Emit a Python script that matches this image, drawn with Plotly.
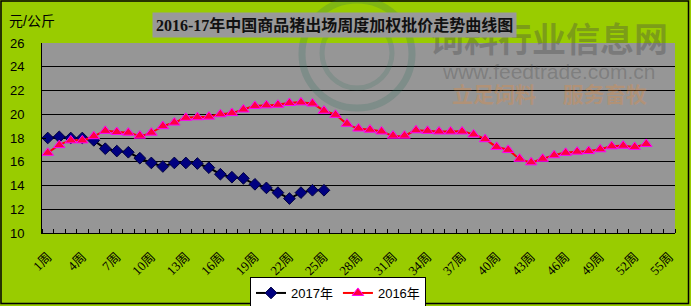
import plotly.graph_objects as go

# ---- data ----
weeks_2017 = list(range(1, 26))
price_2017 = [18.0, 18.1, 18.0, 18.0, 17.8, 17.1, 16.9, 16.8, 16.3, 15.9,
              15.6, 15.9, 15.9, 15.85, 15.5, 14.95, 14.7, 14.6, 14.1, 13.8,
              13.4, 12.9, 13.4, 13.6, 13.6]
weeks_2016 = list(range(1, 54))
price_2016 = [16.75, 17.4, 17.8, 17.8, 18.15, 18.6, 18.5, 18.45, 18.2, 18.45,
              19.0, 19.3, 19.7, 19.75, 19.8, 20.0, 20.1, 20.4, 20.7, 20.75,
              20.8, 20.95, 21.0, 20.9, 20.3, 19.95, 19.2, 18.8, 18.7, 18.55,
              18.2, 18.2, 18.65, 18.6, 18.55, 18.55, 18.55, 18.3, 17.9, 17.25,
              17.0, 16.25, 15.95, 16.25, 16.55, 16.75, 16.85, 16.9, 17.05, 17.3,
              17.35, 17.25, 17.5]
tick_weeks = list(range(1, 56, 3))
tick_text = [f"{w}周" for w in tick_weeks]
y_ticks = list(range(10, 27, 2))
y_grid = list(range(12, 25, 2))

title_text = "2016-17年中国商品猪出场周度加权批价走势曲线图"
unit_text = "元/公斤"

W, H = 691, 306
ML, MR, MT, MB = 42, 16, 43, 73
PW, PH = W - ML - MR, H - MT - MB

def px(x):
    return (x - ML) / PW

def py(y):
    return (H - MB - y) / PH

fig = go.Figure()
fig.add_trace(go.Scatter(
    x=weeks_2017, y=price_2017, name="2017年", mode="lines+markers",
    line=dict(color="#000000", width=2),
    marker=dict(symbol="diamond", size=9, color="#000080",
                line=dict(color="#000040", width=1)),
))
fig.add_trace(go.Scatter(
    x=weeks_2016, y=price_2016, name="2016年", mode="lines+markers",
    line=dict(color="#FF0000", width=2, shape="spline", smoothing=0.6),
    marker=dict(symbol="triangle-up", size=10, color="#FF0040",
                line=dict(color="#FF00FF", width=1)),
))

sans = "Liberation Sans, Noto Sans CJK SC, sans-serif"
serif = "Liberation Serif, Noto Sans CJK SC, serif"

fig.update_layout(
    width=W, height=H,
    margin=dict(l=ML, r=MR, t=MT, b=MB, autoexpand=False),
    paper_bgcolor="#99CC00",
    plot_bgcolor="#969696",
    showlegend=True,
    legend=dict(
        orientation="h", xref="container", yref="container",
        x=250 / W, y=1 - 277 / H, xanchor="left", yanchor="top",
        bgcolor="#FFFFFF", bordercolor="#000000", borderwidth=1,
        font=dict(family=sans, size=13, color="#000000"),
        itemwidth=30, tracegroupgap=0,
    ),
    xaxis=dict(
        range=[0.5, 55.5], tickmode="array", tickvals=tick_weeks, ticktext=tick_text,
        tickangle=-45, showgrid=False, zeroline=False, automargin=False,
        showline=True, linecolor="#000000", linewidth=1,
        ticks="", tickfont=dict(family=serif, size=13, color="#000000"),
        ticklabelstandoff=10,
        minor=dict(tick0=0.5, dtick=1, ticks="inside", ticklen=4,
                   tickcolor="#000000", tickwidth=1, showgrid=False),
    ),
    yaxis=dict(
        range=[10, 26], tickmode="array", tickvals=y_ticks, automargin=False,
        showgrid=False, zeroline=False,
        showline=True, linecolor="#000000", linewidth=1,
        ticks="inside", ticklen=4, tickcolor="#000000",
        tickfont=dict(family=sans, size=13, color="#000000"),
        ticklabelstandoff=14,
        minor=dict(tickmode="array", tickvals=y_grid, showgrid=True,
                   gridcolor="#000000", gridwidth=1, ticks=""),
    ),
)

# outer chart frame
fig.add_shape(type="rect", xref="paper", yref="paper",
              x0=px(1), x1=px(688.5), y0=py(303.5), y1=py(1),
              line=dict(color="#000000", width=1.5), fillcolor="rgba(0,0,0,0)",
              layer="below")

# watermark logo rings
fig.add_shape(type="circle", xref="paper", yref="paper",
              x0=px(302), x1=px(412), y0=py(108), y1=py(0),
              line=dict(color="rgba(40,110,90,0.22)", width=7),
              fillcolor="rgba(0,0,0,0)", layer="above")
fig.add_shape(type="circle", xref="paper", yref="paper",
              x0=px(322), x1=px(392), y0=py(88), y1=py(18),
              line=dict(color="rgba(40,110,90,0.18)", width=5),
              fillcolor="rgba(0,0,0,0)", layer="above")

annos = [
    dict(text="<b>饲料行业信息网</b>", x=px(549), y=py(40),
         font=dict(family=sans, size=34, color="rgba(70,70,70,0.35)")),
    dict(text="www.feedtrade.com.cn", x=px(548), y=py(71),
         font=dict(family=sans, size=21, color="rgba(70,70,70,0.3)")),
    dict(text="<b>立足饲料　 服务畜牧</b>", x=px(549), y=py(94),
         font=dict(family=sans, size=21, color="rgba(230,140,60,0.35)")),
    dict(text="<b>" + title_text + "</b>", x=px(334.5), y=py(24.5),
         bgcolor="#999999", borderpad=3,
         font=dict(family=serif, size=16, color="#111111")),
]
for a in annos:
    fig.add_annotation(xref="paper", yref="paper", showarrow=False,
                       xanchor="center", yanchor="middle", **a)

fig.add_annotation(text=unit_text, xref="paper", yref="paper", showarrow=False,
                   x=px(7), y=py(21), xanchor="left", yanchor="middle",
                   font=dict(family=sans, size=14, color="#000000"))

fig.write_html("out.html")
